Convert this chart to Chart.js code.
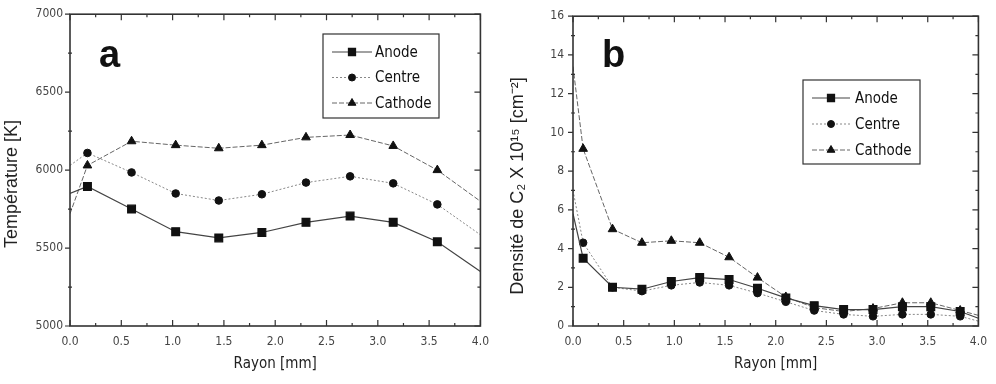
<!DOCTYPE html>
<html>
<head>
<meta charset="utf-8">
<script src="https://cdn.jsdelivr.net/npm/chart.js@4.4.0/dist/chart.umd.min.js"></script>
<style>
body { margin: 0; background: #fff; }
#wrap { position: relative; width: 996px; height: 384px; }
canvas { position: absolute; top: 0; }
</style>
</head>
<body>
<div id="wrap">
<canvas id="chartA" width="498" height="384" style="left:0"></canvas>
<canvas id="chartB" width="498" height="384" style="left:498px"></canvas>
</div>
<script>
// panel a : temperature
const rayonA = [0, 0.17, 0.6, 1.03, 1.45, 1.87, 2.3, 2.73, 3.15, 3.58, 4.0];
const tempAnode = [5850, 5895, 5750, 5605, 5565, 5600, 5665, 5705, 5665, 5540, 5350];
const tempCentre = [6030, 6110, 5985, 5850, 5805, 5845, 5920, 5960, 5915, 5780, 5585];
const tempCathode = [5720, 6030, 6185, 6160, 6140, 6160, 6210, 6225, 6155, 6000, 5800];

// panel b : C2 density
const rayonB = [0, 0.1, 0.39, 0.68, 0.97, 1.25, 1.54, 1.82, 2.1, 2.38, 2.67, 2.96, 3.25, 3.53, 3.82, 4.0];
const densAnode = [5.8, 3.5, 2.0, 1.9, 2.3, 2.5, 2.4, 1.95, 1.45, 1.05, 0.85, 0.85, 1.0, 1.0, 0.75, 0.4];
const densCentre = [7.0, 4.3, 2.0, 1.8, 2.1, 2.25, 2.1, 1.7, 1.25, 0.8, 0.6, 0.5, 0.6, 0.6, 0.5, 0.25];
const densCathode = [13.4, 9.15, 5.0, 4.3, 4.4, 4.3, 3.55, 2.5, 1.5, 0.95, 0.75, 0.9, 1.2, 1.2, 0.8, 0.55];

const seriesNames = ["Anode", "Centre", "Cathode"];

const narrow = '"Liberation Sans Narrow", "DejaVu Sans Condensed", "Liberation Sans", sans-serif';
const arial = '"Liberation Sans", Arial, sans-serif';

function points(xs, ys) {
    return xs.map((x, i) => ({ x: x, y: ys[i] }));
}

// no marker on the two end points
function radii(xs, r) {
    return xs.map((_, i) => (i === 0 || i === xs.length - 1) ? 0 : r);
}

function makeDatasets(xs, a, c, k) {
    return [
        { label: seriesNames[0], data: points(xs, a), borderColor: "#444", borderWidth: 1.2, borderDash: [],
          pointStyle: "rect", pointRadius: radii(xs, 5.5), legendRadius: 5, backgroundColor: "#111", pointBorderColor: "#111" },
        { label: seriesNames[1], data: points(xs, c), borderColor: "#888", borderWidth: 1, borderDash: [2, 2],
          pointStyle: "circle", pointRadius: radii(xs, 3.8), legendRadius: 3.5, backgroundColor: "#111", pointBorderColor: "#111" },
        { label: seriesNames[2], data: points(xs, k), borderColor: "#666", borderWidth: 1, borderDash: [5, 2],
          pointStyle: "triangle", pointRadius: radii(xs, 5), legendRadius: 4.5, backgroundColor: "#111", pointBorderColor: "#111" }
    ];
}

// frame with inward ticks
const frameTicks = {
    id: "frameTicks",
    afterDatasetsDraw(chart, args, opts) {
        const { ctx, chartArea: a, scales: { x, y } } = chart;
        ctx.save();
        ctx.strokeStyle = "#333";
        ctx.lineWidth = 1.6;
        ctx.strokeRect(a.left, a.top, a.right - a.left, a.bottom - a.top);
        ctx.lineWidth = 1.2;
        ctx.beginPath();
        const xs = x.options.ticks.stepSize;
        for (let v = x.min; v <= x.max + 1e-9; v += xs / 2) {
            const px = x.getPixelForValue(v);
            const major = Math.abs(v / xs - Math.round(v / xs)) < 1e-6;
            const len = major ? 6 : 3;
            ctx.moveTo(px, a.bottom); ctx.lineTo(px, a.bottom - len);
            ctx.moveTo(px, a.top); ctx.lineTo(px, a.top + len);
        }
        const ys = y.options.ticks.stepSize;
        for (let v = y.min; v <= y.max + 1e-9; v += ys / 2) {
            const py = y.getPixelForValue(v);
            const major = Math.abs(v / ys - Math.round(v / ys)) < 1e-6;
            if (major) { ctx.moveTo(a.left - 5, py); ctx.lineTo(a.left, py); }
            else { ctx.moveTo(a.left - 2, py); ctx.lineTo(a.left + 2, py); }
            ctx.moveTo(a.right, py); ctx.lineTo(a.right - (major ? 6 : 3), py);
        }
        ctx.stroke();
        ctx.restore();
    }
};

// legend in a box, panel letter and y title
const boxLegend = {
    id: "boxLegend",
    afterDraw(chart, args, o) {
        const ctx = chart.ctx;
        ctx.save();
        ctx.strokeStyle = "#333";
        ctx.lineWidth = 1.2;
        ctx.strokeRect(o.x, o.y, o.w, o.h);
        ctx.font = "15px " + narrow;
        ctx.textBaseline = "middle";
        chart.data.datasets.forEach((ds, i) => {
            const cy = o.y + o.rowTop + i * o.rowGap;
            ctx.strokeStyle = ds.borderColor;
            ctx.lineWidth = ds.borderWidth;
            ctx.setLineDash(ds.borderDash);
            ctx.beginPath();
            ctx.moveTo(o.x + o.lineStart, cy);
            ctx.lineTo(o.x + o.lineStart + o.lineLen, cy);
            ctx.stroke();
            ctx.setLineDash([]);
            ctx.fillStyle = "#111";
            ctx.strokeStyle = "#111";
            Chart.helpers.drawPoint(ctx, { pointStyle: ds.pointStyle, radius: ds.legendRadius, borderWidth: 1, rotation: 0 },
                o.x + o.lineStart + o.lineLen / 2, cy);
            ctx.fillStyle = "#111";
            ctx.fillText(ds.label, o.x + o.textStart, cy + 1);
        });
        ctx.font = "bold 38px " + arial;
        ctx.textBaseline = "alphabetic";
        ctx.textAlign = "left";
        ctx.fillText(o.letter, o.letterX, o.letterY);

        ctx.translate(o.titleX, o.titleY);
        ctx.rotate(-Math.PI / 2);
        ctx.font = "18px " + arial;
        ctx.fillStyle = "#222";
        ctx.textAlign = "center";
        ctx.textBaseline = "middle";
        ctx.fillText(o.title, 0, 0);
        ctx.restore();
    }
};

function makeOptions(yMin, yMax, yStep, yWidth, tickPad, rightPad, legend) {
    return {
        responsive: false,
        animation: false,
        layout: { padding: { top: 11, right: rightPad, left: 0, bottom: 0 } },
        elements: { line: { tension: 0 } },
        plugins: {
            legend: { display: false },
            tooltip: { enabled: false },
            boxLegend: legend
        },
        scales: {
            x: {
                type: "linear", min: 0, max: 4,
                afterFit: s => { s.height = 58; },
                grid: { display: false, drawTicks: false },
                border: { display: false },
                ticks: { stepSize: 0.5, padding: 9, color: "#444", font: { family: narrow, size: 12 },
                         callback: v => v.toFixed(1) },
                title: { display: true, text: "Rayon [mm]", color: "#222", padding: { top: 0, bottom: 11 },
                         font: { family: narrow, size: 15 } }
            },
            y: {
                min: yMin, max: yMax,
                afterFit: s => { s.width = yWidth; },
                grid: { display: false, drawTicks: false },
                border: { display: false },
                ticks: { stepSize: yStep, padding: tickPad, color: "#444", font: { family: narrow, size: 12 },
                         callback: v => String(v) },
                title: { display: false }
            }
        }
    };
}

new Chart(document.getElementById("chartA").getContext("2d"), {
    type: "line",
    data: { datasets: makeDatasets(rayonA, tempAnode, tempCentre, tempCathode) },
    options: makeOptions(5000, 7000, 500, 70, 7, 15,
        { x: 323, y: 34, w: 116, h: 84, rowTop: 18, rowGap: 25.5, lineStart: 9, lineLen: 40, textStart: 52,
          letter: "a", letterX: 99, letterY: 67, title: "Température [K]", titleX: 12, titleY: 184 }),
    plugins: [frameTicks, boxLegend]
});

new Chart(document.getElementById("chartB").getContext("2d"), {
    type: "line",
    data: { datasets: makeDatasets(rayonB, densAnode, densCentre, densCathode) },
    options: makeOptions(0, 16, 2, 75, 9, 10,
        { x: 305, y: 80, w: 117, h: 84, rowTop: 18, rowGap: 26, lineStart: 9, lineLen: 38, textStart: 52,
          letter: "b", letterX: 104, letterY: 67, title: "Densité de C₂ X 10¹⁵ [cm⁻²]", titleX: 20, titleY: 186 }),
    plugins: [frameTicks, boxLegend]
});
</script>
</body>
</html>
